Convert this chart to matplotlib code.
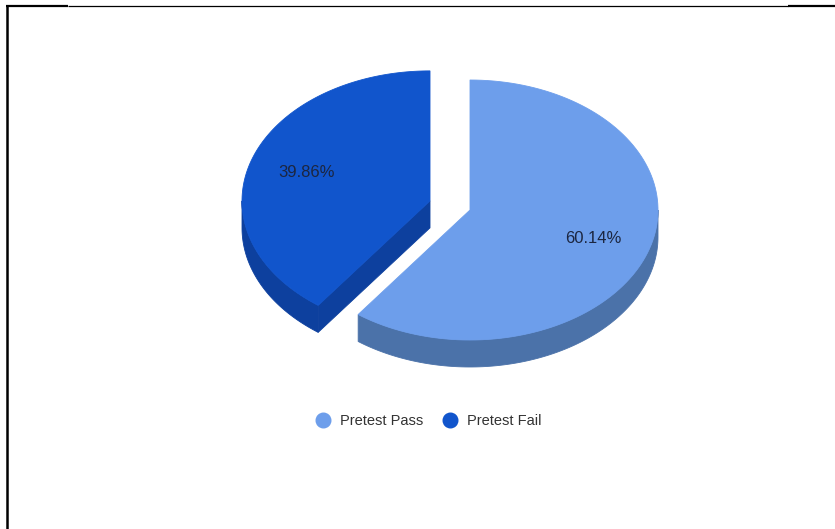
import numpy as np
import matplotlib.pyplot as plt
from matplotlib.patches import Polygon
from matplotlib.lines import Line2D

plt.rcParams['font.family'] = ['Liberation Sans', 'DejaVu Sans']

labels = ['Pretest Pass', 'Pretest Fail']
values = [60.14, 39.86]
explode = [0.0, 0.224]

top_colors = ['#6d9eeb', '#1155cc']
side_colors = ['#4b72a9', '#0d409e']

# pie geometry in pixel units (y grows downward)
cx, cy = 470, 210
rx, ry = 188, 130
depth = 27
label_r = 0.69


def pt(x0, y0, ang):
    a = np.radians(ang)
    return x0 + rx * np.cos(a), y0 - ry * np.sin(a)


def arc(x0, y0, a0, a1, n=120):
    a = np.radians(np.linspace(a0, a1, n))
    return np.column_stack([x0 + rx * np.cos(a), y0 - ry * np.sin(a)])


def front_ranges(lo, hi):
    # parts of [lo, hi] where the rim faces the viewer
    out = []
    for k in range(-2, 3):
        s, e = max(lo, 180 + 360 * k), min(hi, 360 + 360 * k)
        if e > s:
            out.append((s, e))
    return out


fig = plt.figure(figsize=(8.35, 5.29), dpi=100)
ax = fig.add_axes([0, 0, 1, 1])
ax.set_xlim(0, 835)
ax.set_ylim(529, 0)
ax.axis('off')

# slices run clockwise from 12 o'clock
total = sum(values)
slices = []
start = 90.0
for i, v in enumerate(values):
    sweep = v / total * 360
    lo, hi = start - sweep, start
    mid = (lo + hi) / 2
    ox = cx + explode[i] * rx * np.cos(np.radians(mid))
    oy = cy - explode[i] * ry * np.sin(np.radians(mid))
    slices.append((i, lo, hi, mid, ox, oy))
    start = lo

# back slices first
for i, lo, hi, mid, ox, oy in sorted(slices, key=lambda s: -np.sin(np.radians(s[3]))):
    kw = dict(facecolor=side_colors[i], edgecolor=side_colors[i], lw=0.6)
    # radial cut faces
    for ang, normal in ((lo, lo - 90), (hi, hi + 90)):
        if np.sin(np.radians(normal)) < -1e-6:
            px, py = pt(ox, oy, ang)
            face = [(ox, oy), (px, py), (px, py + depth), (ox, oy + depth)]
            ax.add_patch(Polygon(face, closed=True, **kw))
    # outer wall
    for s, e in front_ranges(lo, hi):
        rim = arc(ox, oy, s, e)
        low = rim[::-1] + [0, depth]
        ax.add_patch(Polygon(np.vstack([rim, low]), closed=True, **kw))
    # top face
    top = np.vstack([[ox, oy], arc(ox, oy, lo, hi)])
    ax.add_patch(Polygon(top, closed=True, facecolor=top_colors[i],
                         edgecolor=top_colors[i], lw=0.6))
    lx = ox + label_r * rx * np.cos(np.radians(mid))
    ly = oy - label_r * ry * np.sin(np.radians(mid))
    ax.text(lx, ly, f'{values[i]:.2f}%', ha='center', va='center',
            fontsize=12, color='#1c2640')

# page frame lines
ax.plot([6, 68], [5.5, 5.5], color='black', lw=1.6, solid_capstyle='butt')
ax.plot([68, 788], [5.5, 5.5], color='black', lw=0.9, solid_capstyle='butt')
ax.plot([788, 835], [5.5, 5.5], color='black', lw=1.6, solid_capstyle='butt')
ax.plot([7, 7], [5, 529], color='black', lw=1.8, solid_capstyle='butt')

handles = [Line2D([], [], ls='none', marker='o', markersize=10.5,
                  markerfacecolor=c, markeredgecolor=c) for c in top_colors]
fig.legend(handles, labels, loc='center', bbox_to_anchor=(0.509, 0.204),
           ncol=2, frameon=False, fontsize=10.5, handletextpad=0.15,
           columnspacing=0.85, labelcolor='#333333')

fig.savefig('out.png', dpi=100)
